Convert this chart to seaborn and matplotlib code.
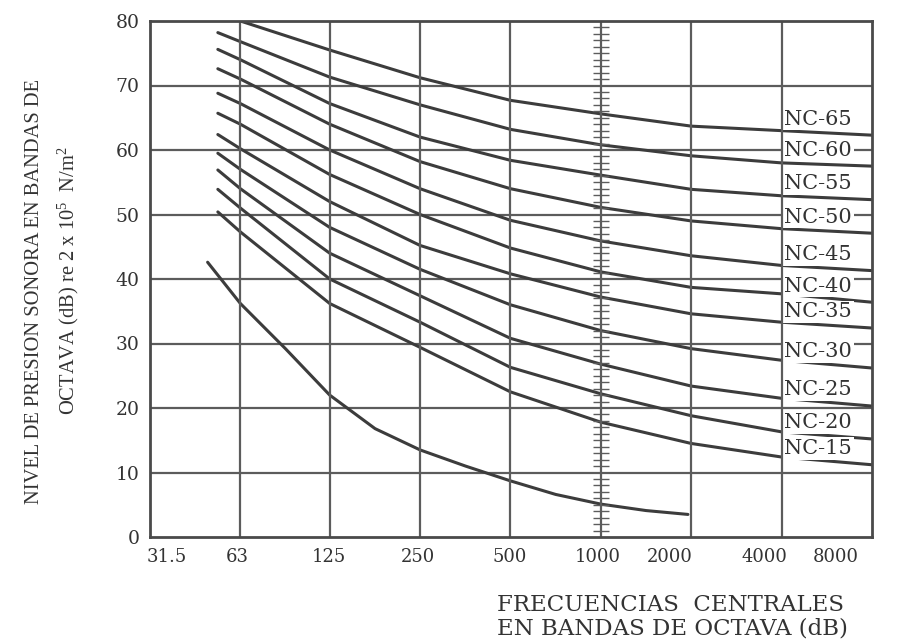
import numpy as np
import pandas as pd
import matplotlib
matplotlib.use("Agg")
import matplotlib.pyplot as plt
import matplotlib.transforms as mtransforms
from matplotlib.ticker import FixedLocator, MultipleLocator, NullFormatter
import seaborn as sns

# Octave band centres (Hz) and their printed labels
bands = [31.5, 63, 125, 250, 500, 1000, 2000, 4000, 8000]
band_labels = ["31.5", "63", "125", "250", "500", "1000", "2000", "4000", "8000"]

# Frequencies at which the NC curves are tabulated (first point is where the curves begin)
nc_freqs = [53, 63, 125, 250, 500, 1000, 2000, 4000, 8000]

# Sound pressure level (dB) of each NC curve at nc_freqs (None = not drawn there)
nc65 = [None, 80.0, 75.5, 71.2, 67.7, 65.6, 63.7, 63.0, 62.3]
nc60 = [78.2, 76.8, 71.3, 67.0, 63.2, 60.8, 59.1, 58.0, 57.5]
nc55 = [75.6, 74.0, 67.2, 62.0, 58.4, 56.1, 53.9, 52.9, 52.3]
nc50 = [72.6, 71.0, 64.0, 58.2, 54.0, 51.1, 49.0, 47.8, 47.1]
nc45 = [68.8, 67.2, 60.0, 54.0, 49.1, 45.9, 43.6, 42.1, 41.3]
nc40 = [65.7, 64.0, 56.2, 50.0, 44.8, 41.1, 38.7, 37.7, 36.4]
nc35 = [62.4, 60.2, 52.0, 45.2, 40.8, 37.2, 34.6, 33.3, 32.4]
nc30 = [59.5, 57.0, 48.0, 41.5, 36.0, 32.0, 29.2, 27.4, 26.2]
nc25 = [56.9, 54.0, 44.0, 37.4, 30.8, 26.8, 23.4, 21.5, 20.3]
nc20 = [53.9, 51.0, 40.0, 33.3, 26.3, 22.2, 18.8, 16.3, 15.2]
nc15 = [50.4, 47.3, 36.2, 29.4, 22.5, 17.8, 14.5, 12.4, 11.2]

nc_names = ["NC-65", "NC-60", "NC-55", "NC-50", "NC-45", "NC-40",
            "NC-35", "NC-30", "NC-25", "NC-20", "NC-15"]
nc_levels = [nc65, nc60, nc55, nc50, nc45, nc40, nc35, nc30, nc25, nc20, nc15]

# Unlabelled lowest curve, read at its own frequencies
low_freqs = [49, 63, 89, 125, 177, 250, 354, 500, 707, 1000, 1414, 1950]
low_levels = [42.6, 36.2, 29.2, 22.0, 16.8, 13.5, 11.0, 8.7, 6.6, 5.1, 4.1, 3.5]

rows = []
for name, levels in zip(nc_names, nc_levels):
    for f, v in zip(nc_freqs, levels):
        if v is not None:
            rows.append({"curve": name, "freq": f, "level": v})
for f, v in zip(low_freqs, low_levels):
    rows.append({"curve": "low", "freq": f, "level": v})
df = pd.DataFrame(rows)

sns.set_style("white")
plt.rcParams["font.family"] = ["DejaVu Serif"]
plt.rcParams["mathtext.default"] = "regular"

ink = "#333333"
grid_c = "#5c5c5c"

fig = plt.figure(figsize=(9.21, 6.39), dpi=100)
W, H = 921, 639
ax = fig.add_axes([150 / W, 1 - 537 / H, (872 - 150) / W, (537 - 21) / H])

sns.lineplot(data=df, x="freq", y="level", units="curve", estimator=None,
             sort=False, color="#3c3c3c", linewidth=2.2, ax=ax, zorder=2)

ax.set_xscale("log", base=2)
ax.set_xlim(31.5, 8000)
ax.set_ylim(0, 80)

# grid: horizontal lines behind the curve labels, vertical lines on top
for v in range(10, 80, 10):
    ax.axhline(v, color=grid_c, lw=1.6, zorder=1)
for f in bands[1:-1]:
    ax.axvline(f, color=grid_c, lw=1.6, zorder=4)

# dB ruler along the 1000 Hz line
ruler = [v for v in range(1, 80) if v % 10]
ax.plot([1000] * len(ruler), ruler, linestyle="none", marker="_",
        markersize=11, markeredgewidth=1.0, color=grid_c, zorder=4)

for s in ax.spines.values():
    s.set_color("#4a4a4a")
    s.set_linewidth(2.0)
    s.set_zorder(5)

ax.xaxis.set_major_locator(FixedLocator(bands))
ax.xaxis.set_minor_locator(FixedLocator([]))
ax.set_xticklabels(band_labels)
ax.tick_params(axis="x", which="both", length=0, pad=8, labelsize=13,
               labelcolor=ink)
label_shift = [17, -3, -1, -2, -1, -3, -21, -17, -36]
for tick, dx in zip(ax.xaxis.get_major_ticks(), label_shift):
    tick.label1.set_transform(tick.label1.get_transform() +
                              mtransforms.ScaledTranslation(dx / 100, 0, fig.dpi_scale_trans))

ax.yaxis.set_major_locator(MultipleLocator(10))
ax.yaxis.set_minor_locator(MultipleLocator(1))
ax.yaxis.set_minor_formatter(NullFormatter())
ax.tick_params(axis="y", which="both", direction="inout", length=9, width=1.0,
               color=grid_c, labelsize=13.5, labelcolor=ink, pad=3)

ax.set_xlabel("")
ax.set_ylabel("")

# curve labels at the right edge, just above each curve's end
for name, levels in zip(nc_names, nc_levels):
    ax.annotate(name, xy=(4000, levels[-1] + 2.5), xytext=(2, 0),
                textcoords="offset points", ha="left", va="center",
                fontsize=15, color=ink, zorder=3,
                bbox=dict(boxstyle="square,pad=0.08", fc="white", ec="none"))

fig.text(35 / W, 1 - 291 / H, "NIVEL DE PRESION SONORA EN BANDAS DE",
         rotation=90, ha="center", va="center", fontsize=14.8,
         family="Liberation Serif", color=ink)
fig.text(68 / W, 1 - 281 / H, r"OCTAVA (dB) re 2 x 10$^{5}$  N/m$^{2}$",
         rotation=90, ha="center", va="center", fontsize=14.8,
         family="Liberation Serif", color=ink)

fig.text(497 / W, 1 - 605 / H, "FRECUENCIAS  CENTRALES", ha="left",
         va="center", fontsize=16.5, color=ink)
fig.text(497 / W, 1 - 628 / H, "EN BANDAS DE OCTAVA (dB)", ha="left",
         va="center", fontsize=16.5, color=ink)

fig.savefig("out.png", dpi=100, facecolor="white")
